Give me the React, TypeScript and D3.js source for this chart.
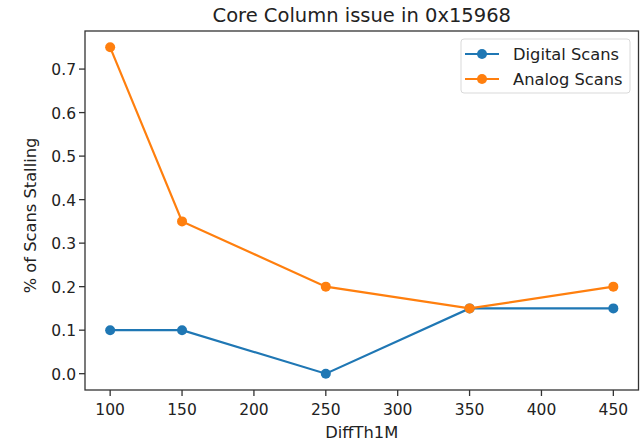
import React from "react";
import * as d3 from "d3";

const xValues = [100, 150, 250, 350, 450];
const digitalScans = [0.1, 0.1, 0.0, 0.15, 0.15];
const analogScans = [0.75, 0.35, 0.2, 0.15, 0.2];
const xTicks = [100, 150, 200, 250, 300, 350, 400, 450];
const yTicks = [0.0, 0.1, 0.2, 0.3, 0.4, 0.5, 0.6, 0.7];
const seriesNames = ["Digital Scans", "Analog Scans"];
const seriesColors = ["#1f77b4", "#ff7f0e"];

const W = 640;
const H = 442;
const M = { left: 85, right: 638.5, top: 31, bottom: 390 };
const FONT = "DejaVu Sans, sans-serif";
const TXT = "#222";

export default function App() {
  const x = d3.scaleLinear().domain([82.5, 467.5]).range([M.left, M.right]);
  const y = d3.scaleLinear().domain([-0.0375, 0.7875]).range([M.bottom, M.top]);
  const line = d3
    .line<[number, number]>()
    .x((d) => x(d[0]))
    .y((d) => y(d[1]));
  const series = [digitalScans, analogScans].map((vals) =>
    xValues.map((v, i) => [v, vals[i]] as [number, number])
  );

  return (
    <svg
      width={W}
      height={H}
      style={{ position: "absolute", left: 0, top: 0, background: "#fff" }}
      fontFamily={FONT}
    >
      <rect x={0} y={0} width={W} height={H} fill="#fff" />
      <text x={(M.left + M.right) / 2} y={22} textAnchor="middle" fontSize={19.5} fill={TXT}>
        Core Column issue in 0x15968
      </text>

      {series.map((pts, si) => (
        <g key={si}>
          <path d={line(pts) || ""} fill="none" stroke={seriesColors[si]} strokeWidth={2.2} />
          {pts.map((p, i) => (
            <circle key={i} cx={x(p[0])} cy={y(p[1])} r={5} fill={seriesColors[si]} />
          ))}
        </g>
      ))}

      <rect
        x={M.left}
        y={M.top}
        width={M.right - M.left}
        height={M.bottom - M.top}
        fill="none"
        stroke="#333"
        strokeWidth={1.3}
      />

      {xTicks.map((t) => (
        <g key={t}>
          <line x1={x(t)} x2={x(t)} y1={M.bottom} y2={M.bottom + 6} stroke="#333" strokeWidth={1.3} />
          <text x={x(t)} y={415} textAnchor="middle" fontSize={15.5} fill={TXT}>
            {t}
          </text>
        </g>
      ))}
      {yTicks.map((t) => (
        <g key={t}>
          <line x1={M.left - 6} x2={M.left} y1={y(t)} y2={y(t)} stroke="#333" strokeWidth={1.3} />
          <text x={M.left - 9} y={y(t) + 6} textAnchor="end" fontSize={15.5} fill={TXT}>
            {t.toFixed(1)}
          </text>
        </g>
      ))}

      <text x={(M.left + M.right) / 2} y={438} textAnchor="middle" fontSize={16.3} fill={TXT}>
        DiffTh1M
      </text>
      <text
        transform={`translate(36, ${(M.top + M.bottom) / 2 + 5}) rotate(-90)`}
        textAnchor="middle"
        fontSize={16.3}
        fill={TXT}
      >
        % of Scans Stalling
      </text>

      <g>
        <rect x={461} y={39} width={169} height={54} rx={3} fill="#fff" fillOpacity={0.8} stroke="#d9d9d9" />
        {seriesNames.map((name, i) => {
          const ly = 54 + i * 25;
          return (
            <g key={name}>
              <line x1={465} x2={499} y1={ly} y2={ly} stroke={seriesColors[i]} strokeWidth={2.2} />
              <circle cx={482} cy={ly} r={5} fill={seriesColors[i]} />
              <text x={513} y={ly + 6} fontSize={16.3} fill={TXT}>
                {name}
              </text>
            </g>
          );
        })}
      </g>
    </svg>
  );
}
